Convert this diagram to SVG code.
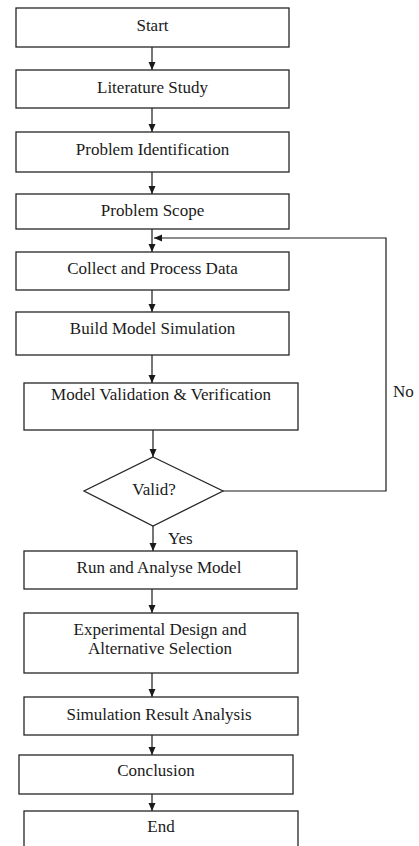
<svg xmlns="http://www.w3.org/2000/svg" width="419" height="846" viewBox="0 0 419 846">
  <style>
    .box { fill: #ffffff; stroke: #262626; stroke-width: 1.3; }
    text { font-family: 'Liberation Serif', 'DejaVu Serif', serif; font-size: 17px; fill: #1a1a1a; }
    .lbl { text-anchor: middle; }
    .wire { fill: none; stroke: #1a1a1a; stroke-width: 1.2; }
  </style>
  <defs>
    <marker id="arrow" viewBox="0 0 8 8" refX="8" refY="4" markerWidth="8" markerHeight="8" markerUnits="userSpaceOnUse" orient="auto">
      <path d="M0,0.5 L8,4 L0,7.5 Z" fill="#1a1a1a"/>
    </marker>
  </defs>
  <rect width="419" height="846" fill="#ffffff"/>

  <g id="connectors">
    <line class="wire" x1="152" y1="47" x2="152" y2="70" marker-end="url(#arrow)"/>
    <line class="wire" x1="152" y1="108" x2="152" y2="132" marker-end="url(#arrow)"/>
    <line class="wire" x1="152" y1="172" x2="152" y2="194" marker-end="url(#arrow)"/>
    <line class="wire" x1="152" y1="229" x2="152" y2="252" marker-end="url(#arrow)"/>
    <line class="wire" x1="152" y1="290" x2="152" y2="312" marker-end="url(#arrow)"/>
    <line class="wire" x1="152" y1="355" x2="152" y2="383" marker-end="url(#arrow)"/>
    <line class="wire" x1="153" y1="430" x2="153" y2="457" marker-end="url(#arrow)"/>
    <line class="wire" x1="153" y1="526" x2="153" y2="551" marker-end="url(#arrow)"/>
    <line class="wire" x1="152" y1="589" x2="152" y2="613" marker-end="url(#arrow)"/>
    <line class="wire" x1="152" y1="673" x2="152" y2="697" marker-end="url(#arrow)"/>
    <line class="wire" x1="152" y1="735" x2="152" y2="755" marker-end="url(#arrow)"/>
    <line class="wire" x1="152" y1="794" x2="152" y2="811" marker-end="url(#arrow)"/>
    <!-- "No" loop back to data collection -->
    <polyline class="wire" points="223,491 386,491 386,238 154,238" marker-end="url(#arrow)"/>
    <text x="393" y="397">No</text>
    <text x="168" y="544">Yes</text>
  </g>

  <g id="start">
    <rect class="box" x="16" y="8" width="273" height="39"/>
    <text class="lbl" x="152.5" y="31">Start</text>
  </g>
  <g id="literature-study">
    <rect class="box" x="16" y="70" width="273" height="38"/>
    <text class="lbl" x="152.5" y="93">Literature Study</text>
  </g>
  <g id="problem-identification">
    <rect class="box" x="16" y="132" width="273" height="40"/>
    <text class="lbl" x="152.5" y="155">Problem Identification</text>
  </g>
  <g id="problem-scope">
    <rect class="box" x="16" y="194" width="273" height="35"/>
    <text class="lbl" x="152.5" y="216">Problem Scope</text>
  </g>
  <g id="collect-data">
    <rect class="box" x="16" y="252" width="273" height="38"/>
    <text class="lbl" x="152.5" y="274">Collect and Process Data</text>
  </g>
  <g id="build-model">
    <rect class="box" x="16" y="312" width="273" height="43"/>
    <text class="lbl" x="152.5" y="334">Build Model Simulation</text>
  </g>
  <g id="validation">
    <rect class="box" x="24" y="383" width="274" height="47"/>
    <text class="lbl" x="161" y="400">Model Validation &amp; Verification</text>
  </g>
  <g id="valid-decision">
    <polygon class="box" points="153,457 223,491 153,526 84,491"/>
    <text class="lbl" x="154" y="495">Valid?</text>
  </g>
  <g id="run-analyse">
    <rect class="box" x="24" y="551" width="273" height="38"/>
    <text class="lbl" x="159" y="573">Run and Analyse Model</text>
  </g>
  <g id="experimental-design">
    <rect class="box" x="24" y="613" width="274" height="60"/>
    <text class="lbl" x="160" y="635">Experimental Design and</text>
    <text class="lbl" x="160" y="654">Alternative Selection</text>
  </g>
  <g id="result-analysis">
    <rect class="box" x="24" y="697" width="274" height="38"/>
    <text class="lbl" x="159" y="720">Simulation Result Analysis</text>
  </g>
  <g id="conclusion">
    <rect class="box" x="19" y="755" width="274" height="39"/>
    <text class="lbl" x="156" y="776">Conclusion</text>
  </g>
  <g id="end">
    <rect class="box" x="24" y="811" width="274" height="45"/>
    <text class="lbl" x="161" y="832">End</text>
  </g>
</svg>
